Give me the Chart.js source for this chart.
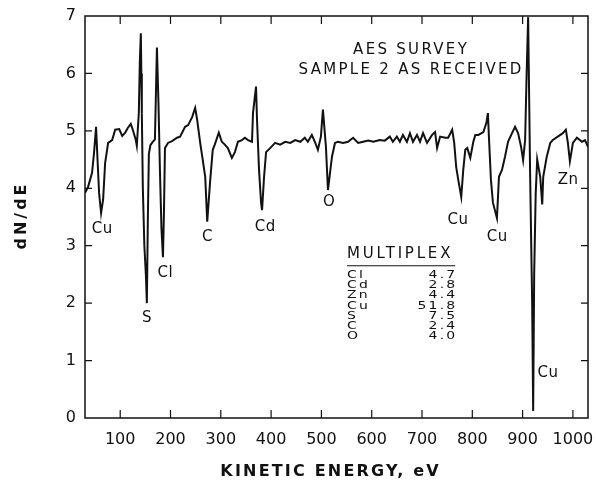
<!DOCTYPE html>
<html>
<head>
<meta charset="utf-8">
<script src="https://cdn.jsdelivr.net/npm/chart.js@4/dist/chart.umd.min.js"></script>
<style>
  html, body { margin: 0; padding: 0; background: #fff; }
  #wrap { width: 596px; height: 485px; }
</style>
</head>
<body>
<div id="wrap"><canvas id="aesChart"></canvas></div>
<script>
// Kinetic energy (eV) and dN/dE
const energy = [
  30, 36, 44, 48, 52, 54, 58, 62, 66, 70, 76, 84, 90, 98, 104, 110, 115, 121, 125, 131,
  133, 137, 139, 141, 142, 143, 145, 148, 151, 153, 155, 157, 160, 164, 169, 173, 176, 179, 182, 185,
  187, 189, 195, 203, 213, 219, 229, 235, 243, 249, 253, 259, 264, 269, 273, 279, 284, 288, 296, 302,
  308, 314, 322, 328, 334, 342, 348, 354, 362, 364, 370, 372, 376, 380, 382, 386, 390, 398, 408, 418,
  428, 438, 448, 458, 467, 473, 481, 487, 493, 499, 503, 509, 513, 521, 527, 533, 543, 553, 563, 573,
  583, 593, 603, 616, 626, 636, 642, 650, 656, 662, 670, 676, 682, 690, 696, 702, 710, 720, 726, 730,
  736, 746, 752, 760, 764, 768, 772, 778, 782, 786, 790, 796, 802, 806, 812, 822, 828, 831, 833, 837,
  841, 849, 853, 859, 865, 871, 879, 885, 891, 897, 901, 905, 908, 911, 915, 919, 921, 923, 926, 929,
  935, 939, 941, 948, 955, 960, 970, 980, 986, 990, 994, 1000, 1008, 1018, 1024, 1030
];
const dNdE = [
  3.92, 4.02, 4.27, 4.62, 5.07, 4.67, 3.92, 3.57, 3.80, 4.44, 4.79, 4.84, 5.02, 5.03, 4.91, 4.97, 5.05, 5.12, 5.02, 4.84,
  4.74, 5.31, 6.20, 6.70, 6.00, 5.30, 4.00, 3.00, 2.50, 2.00, 3.50, 4.60, 4.75, 4.80, 4.85, 6.45, 5.50, 4.30, 3.30, 2.80,
  3.60, 4.70, 4.79, 4.82, 4.88, 4.90, 5.07, 5.10, 5.24, 5.40, 5.19, 4.79, 4.50, 4.20, 3.42, 4.15, 4.67, 4.76, 4.97, 4.81,
  4.76, 4.70, 4.53, 4.63, 4.81, 4.84, 4.88, 4.84, 4.81, 5.31, 5.77, 5.19, 4.32, 3.75, 3.62, 4.20, 4.63, 4.70, 4.79, 4.76,
  4.81, 4.79, 4.84, 4.81, 4.88, 4.81, 4.93, 4.81, 4.67, 4.90, 5.37, 4.72, 3.97, 4.55, 4.79, 4.81, 4.79, 4.81, 4.88, 4.79,
  4.81, 4.83, 4.81, 4.84, 4.83, 4.90, 4.81, 4.90, 4.81, 4.93, 4.81, 4.96, 4.81, 4.93, 4.81, 4.96, 4.79, 4.93, 4.98, 4.70,
  4.90, 4.88, 4.88, 5.02, 4.79, 4.37, 4.15, 3.85, 4.32, 4.67, 4.70, 4.53, 4.81, 4.93, 4.93, 4.98, 5.14, 5.31, 4.90, 4.15,
  3.75, 3.48, 4.20, 4.32, 4.55, 4.81, 4.96, 5.07, 4.96, 4.72, 4.49, 4.84, 6.00, 6.98, 4.20, 2.00, 0.12, 2.50, 3.90, 4.50,
  4.20, 3.72, 4.20, 4.55, 4.79, 4.84, 4.90, 4.96, 5.02, 4.79, 4.47, 4.79, 4.88, 4.81, 4.84, 4.72
];

const xTickValues = [100, 200, 300, 400, 500, 600, 700, 800, 900, 1000];
const yTickValues = [0, 1, 2, 3, 4, 5, 6, 7];

// peak labels: element name at (energy, dN/dE) where it is written
const peakNames  = ['Cu', 'S', 'Cl', 'C', 'Cd', 'O', 'Cu', 'Cu', 'Zn', 'Cu'];
const peakEnergy = [64, 153, 189, 273, 388, 515, 771, 849, 990, 950];
const peakLevel  = [3.29, 1.74, 2.53, 3.15, 3.33, 3.76, 3.45, 3.15, 4.15, 0.78];

const titleLines = ['AES SURVEY', 'SAMPLE 2 AS RECEIVED'];
const xTitle = 'KINETIC ENERGY, eV';
const yTitle = 'dN/dE';

const multiplexElements = ['Cl', 'Cd', 'Zn', 'Cu', 'S', 'C', 'O'];
const multiplexValues   = ['4.7', '2.8', '4.4', '51.8', '7.5', '2.4', '4.0'];

const FONT = '"DejaVu Sans", sans-serif';

// draw text centred, allowing for the trailing letter space
function spacedText(ctx, text, x, y, spacing) {
  ctx.letterSpacing = spacing + 'px';
  ctx.fillText(text, x + spacing / 2, y);
  ctx.letterSpacing = '0px';
}

// frame, inward ticks, axis titles and the text annotations
const decorations = {
  id: 'decorations',
  afterDraw(chart) {
    const ctx = chart.ctx;
    const area = chart.chartArea;
    const xs = chart.scales.x;
    const ys = chart.scales.y;
    ctx.save();
    ctx.strokeStyle = '#111';
    ctx.lineWidth = 1.5;
    ctx.strokeRect(area.left, area.top, area.right - area.left, area.bottom - area.top);

    ctx.lineWidth = 1.2;
    ctx.beginPath();
    xTickValues.forEach(v => {
      const px = xs.getPixelForValue(v);
      ctx.moveTo(px, area.bottom); ctx.lineTo(px, area.bottom - 8);
      ctx.moveTo(px, area.top); ctx.lineTo(px, area.top + 8);
    });
    yTickValues.slice(1, -1).forEach(v => {
      const py = ys.getPixelForValue(v);
      ctx.moveTo(area.left, py); ctx.lineTo(area.left + 7, py);
      ctx.moveTo(area.right, py); ctx.lineTo(area.right - 7, py);
    });
    ctx.stroke();

    ctx.fillStyle = '#111';
    ctx.textBaseline = 'middle';
    ctx.textAlign = 'center';

    // axis titles
    ctx.font = 'bold 16px ' + FONT;
    spacedText(ctx, xTitle, (area.left + area.right) / 2 - 7, 472, 2.2);
    ctx.save();
    ctx.translate(22, (area.top + area.bottom) / 2);
    ctx.rotate(-Math.PI / 2);
    spacedText(ctx, yTitle, 0, 0, 3);
    ctx.restore();

    // peak labels
    ctx.font = '15px ' + FONT;
    peakNames.forEach((name, i) => {
      spacedText(ctx, name, xs.getPixelForValue(peakEnergy[i]), ys.getPixelForValue(peakLevel[i]), 0.5);
    });

    // title block
    ctx.font = '15px ' + FONT;
    const tx = xs.getPixelForValue(676);
    spacedText(ctx, titleLines[0], tx, ys.getPixelForValue(6.41), 2.3);
    spacedText(ctx, titleLines[1], tx, ys.getPixelForValue(6.06), 2.3);

    // multiplex table
    const left = xs.getPixelForValue(551);
    const right = xs.getPixelForValue(766);
    const headY = ys.getPixelForValue(2.86);
    ctx.textAlign = 'left';
    ctx.font = '15px ' + FONT;
    ctx.letterSpacing = '2.8px';
    ctx.fillText('MULTIPLEX', left, headY);
    const lineY = headY + 12;
    ctx.lineWidth = 1.2;
    ctx.beginPath();
    ctx.moveTo(left, lineY); ctx.lineTo(right, lineY);
    ctx.stroke();
    // rows: tall-ish lettering squeezed vertically so lines nearly touch
    ctx.font = '14px ' + FONT;
    ctx.letterSpacing = '2.2px';
    multiplexElements.forEach((el, i) => {
      const y = lineY + 9 + i * 10.3;
      ctx.save();
      ctx.translate(0, y);
      ctx.scale(1, 0.8);
      ctx.textAlign = 'left';
      ctx.fillText(el, left, 0);
      ctx.textAlign = 'right';
      ctx.fillText(multiplexValues[i], right + 2.2, 0);
      ctx.restore();
    });
    ctx.letterSpacing = '0px';
    ctx.restore();
  }
};

const ctx = document.getElementById('aesChart').getContext('2d');
new Chart(ctx, {
  type: 'line',
  data: {
    datasets: [{
      data: energy.map((e, i) => ({ x: e, y: dNdE[i] })),
      borderColor: '#111',
      borderWidth: 2,
      pointRadius: 0,
      tension: 0,
      fill: false
    }]
  },
  options: {
    responsive: true,
    maintainAspectRatio: false,
    animation: false,
    layout: { padding: { top: 16, right: 8, left: 0, bottom: 0 } },
    plugins: {
      legend: { display: false },
      tooltip: { enabled: false }
    },
    scales: {
      x: {
        type: 'linear',
        min: 30,
        max: 1030,
        afterBuildTicks: scale => { scale.ticks = xTickValues.map(v => ({ value: v })); },
        afterFit: scale => {
          scale.height = 67;
          scale.paddingLeft = 0;
          scale.paddingRight = 0;
        },
        grid: { display: false, drawTicks: false },
        border: { display: false },
        ticks: {
          color: '#111', padding: 12, maxRotation: 0, autoSkip: false,
          font: { family: FONT, size: 16 },
          callback: v => String(v)
        }
      },
      y: {
        min: 0,
        max: 7,
        afterBuildTicks: scale => { scale.ticks = yTickValues.map(v => ({ value: v })); },
        afterFit: scale => {
          scale.width = 85;
          scale.paddingTop = 0;
          scale.paddingBottom = 0;
        },
        grid: { display: false, drawTicks: false },
        border: { display: false },
        ticks: { color: '#111', padding: 9, font: { family: FONT, size: 16 } }
      }
    }
  },
  plugins: [decorations]
});
</script>
</body>
</html>
